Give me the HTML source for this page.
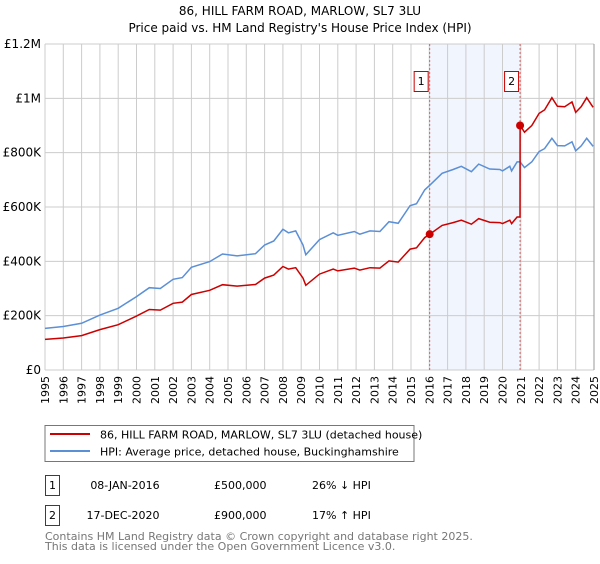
<!DOCTYPE html>
<html><head><meta charset="utf-8"><style>
body{margin:0;background:#fff;font-family:"DejaVu Sans","Liberation Sans",sans-serif;}
svg text{font-family:"DejaVu Sans","Liberation Sans",sans-serif;}
</style></head><body>
<svg id="c" width="600" height="560" viewBox="0 0 600 560" xmlns="http://www.w3.org/2000/svg">
<text x="300" y="15" text-anchor="middle" font-size="12" fill="#000">86, HILL FARM ROAD, MARLOW, SL7 3LU</text>
<text x="300" y="32" text-anchor="middle" font-size="12" fill="#000">Price paid vs. HM Land Registry's House Price Index (HPI)</text>
<g id="grid"></g><g id="series"></g><g id="axes"></g>
<g>
<rect x="45" y="425.5" width="369" height="36" fill="#fff" stroke="#777"/>
<line x1="50" y1="434" x2="90" y2="434" stroke="#cc0000" stroke-width="2"/>
<text x="100" y="438.5" font-size="11">86, HILL FARM ROAD, MARLOW, SL7 3LU (detached house)</text>
<line x1="50" y1="451" x2="90" y2="451" stroke="#5b8fd6" stroke-width="2"/>
<text x="100" y="455.5" font-size="11">HPI: Average price, detached house, Buckinghamshire</text>
</g>
<g font-size="11">
<rect x="45.5" y="475.5" width="14" height="20" fill="#fff" stroke="#cc0000"/>
<text x="52.5" y="489" text-anchor="middle">1</text>
<text x="125" y="489" text-anchor="middle">08-JAN-2016</text>
<text x="214" y="489">£500,000</text>
<text x="312" y="489">26% ↓ HPI</text>
<rect x="45.5" y="505.5" width="14" height="20" fill="#fff" stroke="#cc0000"/>
<text x="52.5" y="519" text-anchor="middle">2</text>
<text x="123" y="519" text-anchor="middle">17-DEC-2020</text>
<text x="214" y="519">£900,000</text>
<text x="312" y="519">17% ↑ HPI</text>
</g>
<text x="45" y="540" font-size="11" fill="#777">Contains HM Land Registry data © Crown copyright and database right 2025.</text>
<text x="45" y="550" font-size="11" fill="#777">This data is licensed under the Open Government Licence v3.0.</text>
</svg>
<script>
const hpiYears=[1995,1996,1997,1998,1999,2000,2000.7,2001.3,2002,2002.5,2003,2004,2004.7,2005.5,2006.5,2007,2007.5,2008,2008.3,2008.7,2009.1,2009.25,2010,2010.75,2011,2011.9,2012.2,2012.76,2013.3,2013.8,2014.3,2014.95,2015.3,2015.75,2016.02,2016.7,2017.3,2017.75,2018.3,2018.7,2019.3,2019.85,2020,2020.4,2020.5,2020.8,2020.96,2021.2,2021.6,2022,2022.3,2022.7,2023,2023.4,2023.8,2024,2024.3,2024.6,2024.95];
const hpiValues=[153,160,172,202,227,270,303,300,334,340,378,399,427,420,428,460,475,518,505,512,460,424,480,505,496,510,500,512,510,546,540,605,612,663,680,724,738,750,730,758,740,738,733,750,733,766,766,745,766,804,815,853,826,825,840,807,825,853,823];
const saleYears=[2016.02,2020.96];
const salePrices=[500,900];
const saleLabels=["1","2"];
const yTicks=[0,200,400,600,800,1000,1200];
const yTickLabels=["£0","£200K","£400K","£600K","£800K","£1M","£1.2M"];
const xTicks=[1995,1996,1997,1998,1999,2000,2001,2002,2003,2004,2005,2006,2007,2008,2009,2010,2011,2012,2013,2014,2015,2016,2017,2018,2019,2020,2021,2022,2023,2024,2025];
const NS="http://www.w3.org/2000/svg";
const X0=45,X1=594,Y0=370,Y1=44;
const xs=y=>X0+(y-1995)/30*(X1-X0);
const ys=v=>Y0-v/1200*(Y0-Y1);
function mk(t,a,p){const e=document.createElementNS(NS,t);for(const k in a)e.setAttribute(k,a[k]);p.appendChild(e);return e;}
const grid=document.getElementById('grid'),ser=document.getElementById('series'),ax=document.getElementById('axes');
// shaded band
const band=mk('rect',{x:xs(saleYears[0]),y:Y1,width:xs(saleYears[1])-xs(saleYears[0]),height:Y0-Y1,fill:'#eef3fc',opacity:0.8},grid);


xTicks.forEach((t,i)=>{
 const l=mk('line',{x1:xs(t),x2:xs(t),y1:Y1,y2:Y0,stroke:'#ccc'},grid);
 
 
 const tx=mk('text',{x:0,y:0,'font-size':11,'text-anchor':'end',transform:`translate(${xs(t)+4},${Y0+6}) rotate(-90)`},ax);
 tx.textContent=t;
 
 
});
yTicks.forEach((t,i)=>{
 const l=mk('line',{x1:X0,x2:X1,y1:ys(t),y2:ys(t),stroke:'#ccc'},grid);
 
 
 const tx=mk('text',{x:X0-4,y:ys(t)+4,'font-size':12,'text-anchor':'end'},ax);
 tx.textContent=yTickLabels[i];
 
 
});
saleYears.forEach((s,i)=>{
 const l=mk('line',{x1:xs(s),x2:xs(s),y1:Y1,y2:Y0,stroke:'#e06060','stroke-dasharray':'2,2'},grid);
 
 
 const r=mk('rect',{x:xs(s)-15.5,y:71.5,width:14,height:20,fill:'#fff',stroke:'#cc0000'},ax);
 
 
 const t=mk('text',{x:xs(s)-8.5,y:85,'font-size':11,'text-anchor':'middle'},ax);
 t.textContent=saleLabels[i];
 
 
});
function interp(y){for(let i=1;i<hpiYears.length;i++){if(y<=hpiYears[i]){const f=(y-hpiYears[i-1])/(hpiYears[i]-hpiYears[i-1]);return hpiValues[i-1]+f*(hpiValues[i]-hpiValues[i-1]);}}return hpiValues[hpiValues.length-1];}
const hp=hpiYears.map((y,i)=>`${xs(y).toFixed(1)},${ys(hpiValues[i]).toFixed(1)}`).join(' ');
const hl=mk('polyline',{points:hp,fill:'none',stroke:'#5b8fd6','stroke-width':1.5},ser);


// property price line: indexed to HPI from each sale
const r0=salePrices[0]/interp(saleYears[0]),r1=salePrices[1]/interp(saleYears[1]);
const pts=[];
hpiYears.forEach((y,i)=>{
 if(y<saleYears[1]) pts.push([y,hpiValues[i]*(y<saleYears[0]?r0:r0)]);
});
pts.push([saleYears[1]-0.001,interp(saleYears[1])*r0]);
hpiYears.forEach((y,i)=>{if(y>=saleYears[1])pts.push([y,hpiValues[i]*r1]);});
const pl=mk('polyline',{points:pts.map(p=>`${xs(p[0]).toFixed(1)},${ys(p[1]).toFixed(1)}`).join(' '),fill:'none',stroke:'#cc0000','stroke-width':1.5},ser);


saleYears.forEach((s,i)=>{
 const c=mk('circle',{cx:xs(s),cy:ys(salePrices[i]),r:4,fill:'#cc0000'},ser);
 
 
});
const bx=mk('line',{x1:X1,x2:X1,y1:Y1,y2:Y0,stroke:'#999'},ax);


</script>
</body></html>
